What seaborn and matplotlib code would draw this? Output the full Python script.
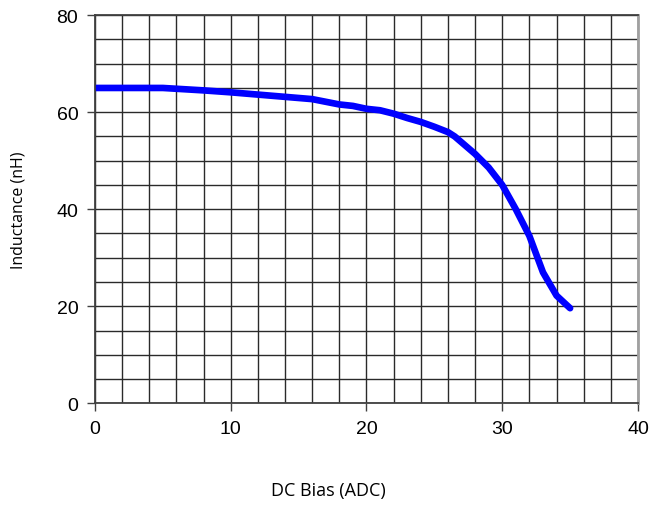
import numpy as np
import pandas as pd
import matplotlib
matplotlib.use('Agg')
import matplotlib.pyplot as plt
import seaborn as sns

# DC bias (A) vs inductance (nH)
dc_bias = [0, 5, 8, 10, 13, 16, 18, 19, 20, 21, 22, 23, 24, 25, 26, 26.5, 27, 28, 29, 30,
           31, 32, 33, 34, 35]
inductance = [65, 65, 64.5, 64.1, 63.4, 62.7, 61.6, 61.3, 60.7, 60.4, 59.7, 58.8, 58.0,
              57.0, 55.9, 55.0, 53.8, 51.4, 48.6, 45.0, 40.0, 34.5, 27.0, 22.2, 19.6]

x_ticks = [0, 10, 20, 30, 40]
y_ticks = [0, 20, 40, 60, 80]

df = pd.DataFrame({'dc_bias': dc_bias, 'inductance': inductance})

sns.set_style('white')
plt.rcParams['font.family'] = ['Liberation Sans', 'DejaVu Sans']
plt.rcParams['text.color'] = 'black'
plt.rcParams['xtick.color'] = 'black'
plt.rcParams['ytick.color'] = 'black'
plt.rcParams['axes.labelcolor'] = 'black'

fig = plt.figure(figsize=(6.53, 5.06), dpi=100)
ax = fig.add_axes([0.1455, 0.201, 0.8315, 0.767])

sns.lineplot(data=df, x='dc_bias', y='inductance', ax=ax,
             color='#0000ff', linewidth=4.8, solid_capstyle='round')

ax.set_xlim(0, 40)
ax.set_ylim(0, 80)
ax.set_xticks(x_ticks)
ax.set_yticks(y_ticks)
ax.set_xticks(np.arange(0, 41, 2), minor=True)
ax.set_yticks(np.arange(0, 81, 5), minor=True)
ax.grid(which='both', color='#2a2a2a', linewidth=1.0)
ax.set_axisbelow(True)

ax.tick_params(axis='both', which='major', labelsize=14, length=6, width=1,
               color='#404040', direction='out', bottom=True, left=True, pad=6)
ax.tick_params(which='minor', length=0)

for side in ['left', 'bottom', 'top']:
    ax.spines[side].set_color('#404040')
    ax.spines[side].set_linewidth(1.3)
ax.spines['right'].set_color('#a0a0a0')
ax.spines['right'].set_linewidth(2)

ax.set_xlabel('DC Bias (ADC)', fontsize=13, family=['Open Sans', 'DejaVu Sans'])
ax.set_ylabel('Inductance (nH)', fontsize=11.5, family=['Open Sans', 'DejaVu Sans'])
# the x title sits left of centre in the original
ax.xaxis.set_label_coords(0.429, -0.2)
ax.yaxis.set_label_coords(-0.126, 0.5)

plt.savefig('out.png', dpi=100)
